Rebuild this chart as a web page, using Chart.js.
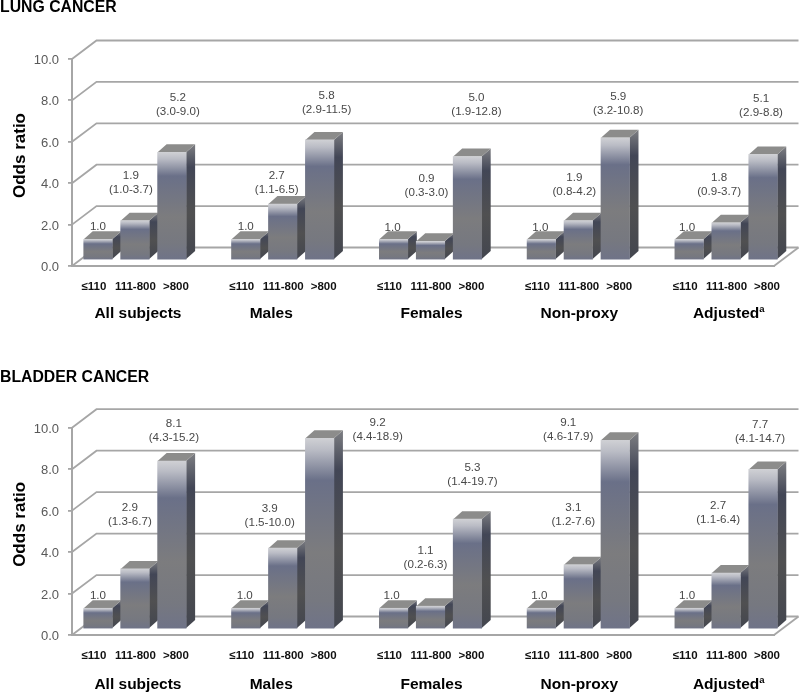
<!DOCTYPE html>
<html>
<head>
<meta charset="utf-8">
<title>Odds ratio by exposure</title>
<script src="https://cdn.jsdelivr.net/npm/chart.js@4"></script>
<style>
    html, body { margin: 0; padding: 0; background: #fff; }
    canvas { display: block; filter: blur(0.35px); }
</style>
</head>
<body>
<canvas id="lungChart" width="800" height="346"></canvas>
<canvas id="bladderChart" width="800" height="347"></canvas>
<script>
// Data, empty slots separate the subject groups
const categories = ['≤110', '111-800', '>800', '', '≤110', '111-800', '>800', '', '≤110', '111-800', '>800', '',
    '≤110', '111-800', '>800', '', '≤110', '111-800', '>800'];
const groupNames = ['All subjects', 'Males', 'Females', 'Non-proxy', 'Adjusted'];
const yTickLabels = ['0.0', '2.0', '4.0', '6.0', '8.0', '10.0'];

const lungOR = [1.0, 1.9, 5.2, null, 1.0, 2.7, 5.8, null, 1.0, 0.9, 5.0, null, 1.0, 1.9, 5.9, null, 1.0, 1.8, 5.1];
const lungCI = ['', '(1.0-3.7)', '(3.0-9.0)', '', '', '(1.1-6.5)', '(2.9-11.5)', '', '', '(0.3-3.0)', '(1.9-12.8)', '',
    '', '(0.8-4.2)', '(3.2-10.8)', '', '', '(0.9-3.7)', '(2.9-8.8)'];

const bladderOR = [1.0, 2.9, 8.1, null, 1.0, 3.9, 9.2, null, 1.0, 1.1, 5.3, null, 1.0, 3.1, 9.1, null, 1.0, 2.7, 7.7];
const bladderCI = ['', '(1.3-6.7)', '(4.3-15.2)', '', '', '(1.5-10.0)', '(4.4-18.9)', '', '', '(0.2-6.3)', '(1.4-19.7)', '',
    '', '(1.2-7.6)', '(4.6-17.9)', '', '', '(1.1-6.4)', '(4.1-14.7)'];

// Where the hand-placed value labels sit, relative to the top of their bar
const lungLabelShift = [[0, -13], [-4, -45], [6, -55], null, [0, -13], [-6, -28], [7, -44], null, [-1, -12], [-4, -63], [9, -59], null,
    [-1, -12], [-4, -43], [3, -41], null, [-2, -12], [-7, -45], [-2, -56]];
const bladderLabelShift = [[0, -12], [-5, -61], [2, -37], null, [-1, -12], [-13, -39], [58, -15], null, [-2, -12], [-5, -55], [5, -51], null,
    [-2, -12], [-5, -57], [-47, -18], null, [-2, -12], [-8, -67], [-3, -45]];

const groupNameShift = [3, -11.5, 1, 1, 0];
const tickLabelShift = [-4, 0.5, 4];

const FONT = '"Liberation Sans", Arial, sans-serif';
const GRID = '#a6a6a6';
// floor depth of the 3D box and of the bars
const WALL_DX = 24.5, WALL_DY = 18.5;
const BAR_DX = 9, BAR_DY = 8;
// bars stand a little behind the front edge of the floor
const SHIFT_X = 7.5, SHIFT_Y = -6;

function verticalGradient(ctx, top, bottom, stops) {
    const g = ctx.createLinearGradient(0, top, 0, bottom);
    stops.forEach(s => g.addColorStop(s[0], s[1]));
    return g;
}

function frontFace(context) {
    const chart = context.chart;
    if (!chart.chartArea || context.raw == null) return 'transparent';
    const y = chart.scales.y;
    return verticalGradient(chart.ctx, y.getPixelForValue(context.raw), y.getPixelForValue(0), [
        [0, '#cfd0d4'], [0.06, '#babcc5'], [0.22, '#6a7088'], [0.6, '#7c7c7e'], [0.85, '#767880'], [1, '#6f7388']
    ]);
}

function boxPlugin(opts) {
    return {
        id: 'box3d',
        beforeDatasetsDraw(chart) {
            const ctx = chart.ctx, area = chart.chartArea, y = chart.scales.y;
            // back wall and floor
            ctx.save();
            ctx.strokeStyle = GRID;
            ctx.lineWidth = 1.8;
            y.ticks.forEach(t => {
                const p = y.getPixelForValue(t.value);
                ctx.beginPath();
                ctx.moveTo(area.left, p);
                ctx.lineTo(area.left + WALL_DX, p - WALL_DY);
                ctx.lineTo(area.right + WALL_DX, p - WALL_DY);
                ctx.stroke();
            });
            const p0 = y.getPixelForValue(0);
            ctx.beginPath();
            ctx.moveTo(area.right, p0);
            ctx.lineTo(area.right + WALL_DX, p0 - WALL_DY);
            ctx.stroke();
            ctx.restore();

            // side and top of each bar, the front comes from the library
            ctx.save();
            ctx.translate(SHIFT_X, SHIFT_Y);
            chart.getDatasetMeta(0).data.forEach((bar, i) => {
                if (opts.values[i] == null) return;
                const right = bar.x + bar.width / 2, left = bar.x - bar.width / 2;
                ctx.fillStyle = verticalGradient(ctx, bar.y - BAR_DY, bar.base, [
                    [0, '#7d7e82'], [0.2, '#424656'], [0.6, '#505051'], [1, '#43464f']
                ]);
                ctx.beginPath();
                ctx.moveTo(right, bar.y);
                ctx.lineTo(right + BAR_DX, bar.y - BAR_DY);
                ctx.lineTo(right + BAR_DX, bar.base - BAR_DY);
                ctx.lineTo(right, bar.base);
                ctx.fill();
                ctx.fillStyle = '#8c8c8b';
                ctx.beginPath();
                ctx.moveTo(left, bar.y);
                ctx.lineTo(left + BAR_DX, bar.y - BAR_DY);
                ctx.lineTo(right + BAR_DX, bar.y - BAR_DY);
                ctx.lineTo(right, bar.y);
                ctx.fill();
            });
        },
        afterDatasetsDraw(chart) {
            chart.ctx.restore();
        },
        afterDraw(chart) {
            const ctx = chart.ctx, x = chart.scales.x, y = chart.scales.y;
            const p0 = y.getPixelForValue(0);
            ctx.save();
            ctx.textBaseline = 'middle';
            ctx.textAlign = 'center';

            // value and confidence interval
            ctx.fillStyle = '#484848';
            ctx.font = '11.6px ' + FONT;
            chart.getDatasetMeta(0).data.forEach((bar, i) => {
                if (opts.values[i] == null) return;
                const s = opts.shift[i];
                const lx = bar.x + SHIFT_X + s[0], ly = bar.y + SHIFT_Y + s[1];
                ctx.fillText(opts.values[i].toFixed(1), lx, ly);
                if (opts.ci[i]) ctx.fillText(opts.ci[i], lx, ly + 14);
            });

            // exposure classes under each bar
            ctx.fillStyle = '#111';
            ctx.font = 'bold 11.5px ' + FONT;
            categories.forEach((c, i) => {
                if (!c) return;
                ctx.fillText(c, x.getPixelForValue(i) + SHIFT_X + tickLabelShift[i % 4], p0 + 21);
            });

            // subject group names
            ctx.fillStyle = '#000';
            ctx.font = 'bold 15.5px ' + FONT;
            ctx.textBaseline = 'alphabetic';
            groupNames.forEach((g, i) => {
                const gx = x.getPixelForValue(i * 4 + 1) + SHIFT_X + groupNameShift[i];
                ctx.fillText(g, gx, p0 + opts.groupY);
                if (g === 'Adjusted') {
                    const w = ctx.measureText(g).width;
                    ctx.save();
                    ctx.font = 'bold 9.5px ' + FONT;
                    ctx.textAlign = 'left';
                    ctx.fillText('a', gx + w / 2, p0 + opts.groupY - 6);
                    ctx.restore();
                }
            });

            // panel heading
            ctx.textAlign = 'left';
            ctx.font = 'bold 15.8px ' + FONT;
            ctx.fillText(opts.title, 0, opts.titleY);

            // y axis title sits above the middle of the axis
            ctx.translate(20, (y.top + y.bottom) / 2 - 7);
            ctx.rotate(-Math.PI / 2);
            ctx.textAlign = 'center';
            ctx.textBaseline = 'middle';
            ctx.font = 'bold 17px ' + FONT;
            ctx.fillText('Odds ratio', 0, 0);
            ctx.restore();
        }
    };
}

function buildChart(id, opts) {
    return new Chart(document.getElementById(id), {
        type: 'bar',
        data: {
            labels: categories,
            datasets: [{
                data: opts.values,
                backgroundColor: frontFace,
                borderWidth: 0,
                barThickness: 28.5,
                clip: false
            }]
        },
        options: {
            responsive: false,
            animation: false,
            layout: { padding: { top: opts.top, right: 26, left: 0, bottom: 0 } },
            plugins: { legend: { display: false }, tooltip: { enabled: false } },
            scales: {
                x: {
                    type: 'category',
                    ticks: { display: false },
                    grid: { display: false },
                    border: { color: GRID, width: 2 },
                    afterFit: s => { s.height = opts.below; }
                },
                y: {
                    min: 0,
                    max: 10,
                    ticks: {
                        stepSize: 2,
                        padding: 9,
                        color: '#595959',
                        // the empty first line with this line height nudges the label down to the tick
                        font: { family: FONT, size: 13, lineHeight: '3px' },
                        autoSkip: false,
                        callback: (v, i) => ['', yTickLabels[i]]
                    },
                    grid: { drawOnChartArea: false, color: GRID, tickLength: 4, lineWidth: 1.8 },
                    border: { color: GRID, width: 2 },
                    afterFit: s => { s.width = 72; }
                }
            }
        },
        plugins: [boxPlugin(opts)]
    });
}

buildChart('lungChart', {
    values: lungOR, ci: lungCI, shift: lungLabelShift,
    title: 'LUNG CANCER', titleY: 12, top: 59, below: 80, groupY: 52
});
buildChart('bladderChart', {
    values: bladderOR, ci: bladderCI, shift: bladderLabelShift,
    title: 'BLADDER CANCER', titleY: 35.5, top: 81.7, below: 58, groupY: 54
});
</script>
</body>
</html>
